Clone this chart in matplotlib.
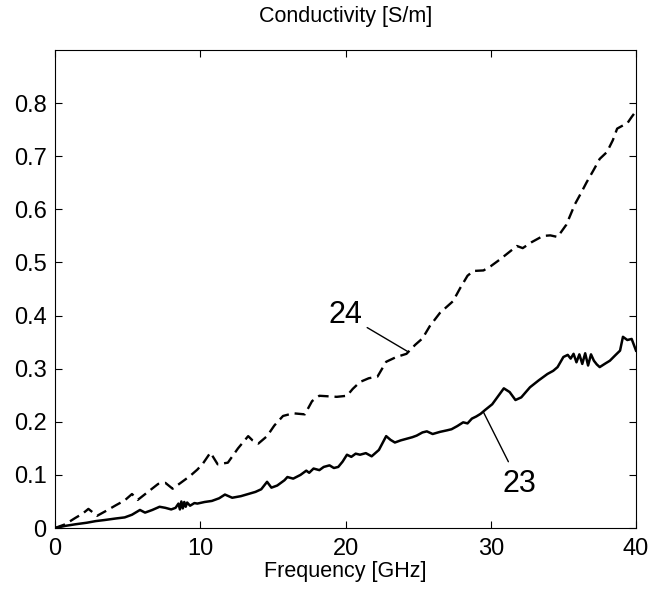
import numpy as np
import matplotlib
matplotlib.use("Agg")
import matplotlib.pyplot as plt

# 数据：近似值
# 曲线 24（虚线）
freq_24 = [0.0, 0.7, 1.4, 1.9, 2.3, 2.9, 3.5, 4.2, 4.8, 5.3, 5.7, 6.4, 7.1, 7.6, 8.1,
           8.8, 9.3, 9.8, 10.2, 10.7, 11.2, 11.9, 12.6, 13.3, 13.6, 14.0, 14.6, 15.1,
           15.7, 16.4, 17.2, 17.7, 18.2, 18.8, 19.4, 20.1, 20.5, 21.0, 21.6, 22.2,
           22.8, 23.5, 24.2, 24.8, 25.3, 25.8, 26.5, 27.4, 27.9, 28.4, 28.8, 29.5,
           30.0, 30.6, 31.2, 31.8, 32.2, 32.8, 33.6, 34.1, 34.6, 35.2, 35.8, 36.2,
           36.6, 37.1, 37.5, 38.0, 38.4, 38.7, 39.1, 39.4, 39.7, 40.0]
cond_24 = [0.0, 0.007, 0.019, 0.027, 0.036, 0.023, 0.032, 0.043, 0.052, 0.064, 0.053, 0.068, 0.083, 0.085, 0.074,
           0.088, 0.098, 0.110, 0.122, 0.142, 0.120, 0.123, 0.150, 0.173, 0.165, 0.159, 0.173, 0.193,
           0.211, 0.216, 0.214, 0.239, 0.249, 0.248, 0.247, 0.249, 0.262, 0.275, 0.282, 0.285,
           0.313, 0.322, 0.328, 0.345, 0.357, 0.380, 0.405, 0.427, 0.452, 0.475, 0.484, 0.485,
           0.493, 0.505, 0.518, 0.531, 0.527, 0.538, 0.550, 0.551, 0.548, 0.571, 0.610, 0.630,
           0.651, 0.675, 0.695, 0.708, 0.730, 0.752, 0.758, 0.762, 0.774, 0.785]

# 曲线 23（实线，带噪声）
freq_23 = [0.0, 0.7, 1.4, 2.2, 2.8, 3.4, 4.2, 4.8, 5.3, 5.85, 6.2, 6.7, 7.2, 7.6, 8.0,
           8.3, 8.5, 8.6, 8.7, 8.8, 8.9, 9.0, 9.1, 9.3, 9.6, 9.8, 10.3, 10.8, 11.3,
           11.7, 12.2, 12.8, 13.3, 13.8, 14.2, 14.6, 14.9, 15.3, 15.8, 16.0, 16.4,
           16.9, 17.3, 17.5, 17.8, 18.2, 18.5, 18.9, 19.2, 19.5, 19.8, 20.1, 20.4,
           20.7, 21.0, 21.4, 21.8, 22.3, 22.8, 23.1, 23.4, 23.8, 24.2, 24.6, 24.9,
           25.3, 25.6, 26.0, 26.5, 27.0, 27.3, 27.7, 28.1, 28.4, 28.7, 29.0, 29.3,
           29.6, 30.1, 30.5, 30.9, 31.3, 31.7, 32.1, 32.7, 33.3, 33.9, 34.3, 34.6,
           35.0, 35.3, 35.5, 35.7, 35.9, 36.1, 36.3, 36.5, 36.7, 36.9, 37.1, 37.3,
           37.5, 37.9, 38.2, 38.6, 38.9, 39.1, 39.4, 39.7, 40.0]
cond_23 = [0.0, 0.004, 0.007, 0.010, 0.013, 0.015, 0.018, 0.020, 0.025, 0.034, 0.029, 0.034, 0.040, 0.038, 0.035,
           0.038, 0.046, 0.035, 0.050, 0.037, 0.049, 0.040, 0.048, 0.042, 0.047, 0.046, 0.049, 0.051, 0.056,
           0.063, 0.057, 0.060, 0.064, 0.068, 0.073, 0.087, 0.076, 0.080, 0.090, 0.096, 0.093,
           0.100, 0.108, 0.104, 0.112, 0.109, 0.115, 0.118, 0.113, 0.115, 0.125, 0.138, 0.134,
           0.140, 0.138, 0.141, 0.135, 0.147, 0.173, 0.166, 0.161, 0.165, 0.168, 0.171, 0.174,
           0.180, 0.182, 0.177, 0.181, 0.184, 0.186, 0.192, 0.199, 0.197, 0.206, 0.210, 0.215,
           0.222, 0.233, 0.248, 0.263, 0.256, 0.241, 0.246, 0.265, 0.278, 0.290, 0.296, 0.303,
           0.322, 0.326, 0.319, 0.328, 0.312, 0.327, 0.309, 0.329, 0.306, 0.327, 0.315, 0.308,
           0.303, 0.310, 0.315, 0.326, 0.334, 0.360, 0.354, 0.356, 0.334]

x_ticks = [0, 10, 20, 30, 40]
y_ticks = [0, 0.1, 0.2, 0.3, 0.4, 0.5, 0.6, 0.7, 0.8]
y_tick_labels = ["0", "0.1", "0.2", "0.3", "0.4", "0.5", "0.6", "0.7", "0.8"]

plt.rcParams['font.family'] = ['Liberation Sans', 'DejaVu Sans']

fig = plt.figure(figsize=(6.53, 5.99), dpi=100)
ax = fig.add_axes([0.0842, 0.1185, 0.8898, 0.798])

ax.plot(freq_24, cond_24, color='black', linewidth=1.7, linestyle=(0, (4.5, 2.5)))
ax.plot(freq_23, cond_23, color='black', linewidth=1.8)

ax.set_xlim(0, 40)
ax.set_ylim(0, 0.9)
ax.set_xticks(x_ticks)
ax.set_yticks(y_ticks)
ax.set_yticklabels(y_tick_labels)
ax.tick_params(direction='in', length=5, width=0.8, labelsize=17,
               top=True, right=True)
ax.tick_params(axis='x', pad=7)
ax.tick_params(axis='y', pad=6)

ax.set_title("Conductivity [S/m]", fontsize=15.5, pad=20)
ax.set_xlabel("Frequency [GHz]", fontsize=15.5, labelpad=1)

# 曲线标注
ax.annotate("24", xy=(24.3, 0.332), xytext=(19.97, 0.402), fontsize=22,
            ha='center', va='center',
            arrowprops=dict(arrowstyle='-', color='black', linewidth=1.0,
                            shrinkA=2, shrinkB=0))
ax.annotate("23", xy=(29.5, 0.218), xytext=(32.0, 0.082), fontsize=22,
            ha='center', va='center',
            arrowprops=dict(arrowstyle='-', color='black', linewidth=1.0,
                            shrinkA=4, shrinkB=0))

fig.savefig("out.png", dpi=100)
